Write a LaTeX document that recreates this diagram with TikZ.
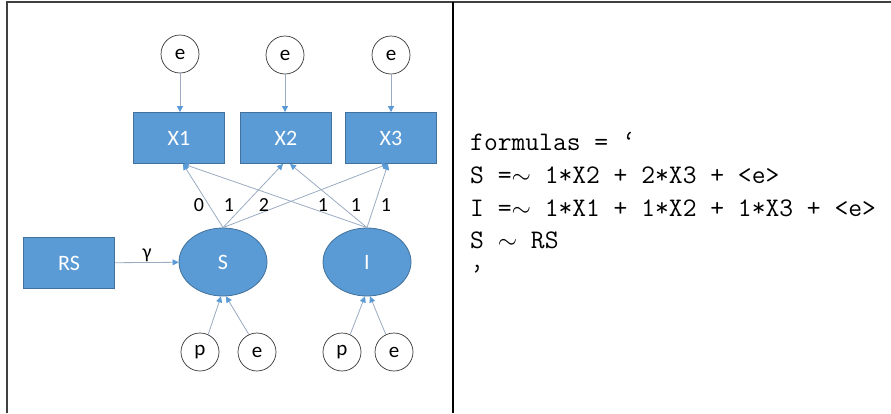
\documentclass[tikz,border=0pt]{standalone}
\usepackage{fontspec}
\newfontfamily\calfont{Carlito}
\usetikzlibrary{shapes.geometric,arrows.meta}
\definecolor{boxblue}{HTML}{5B9BD5}
\definecolor{boxedge}{HTML}{41719C}
\definecolor{linegray}{HTML}{9AABC2}
\tikzset{
  obs/.style={rectangle, fill=boxblue, draw=boxedge, line width=0.8pt, minimum width=91pt, minimum height=51pt, text=white, font=\calfont\fontsize{22}{24}\selectfont},
  lat/.style={ellipse, fill=boxblue, draw=boxedge, line width=0.8pt, minimum width=88pt, minimum height=68pt, inner sep=0pt, text=white, font=\calfont\fontsize{22}{24}\selectfont},
  err/.style={circle, draw=black!80, line width=0.7pt, fill=white, minimum size=38pt, inner sep=0pt, font=\calfont\fontsize{21}{23}\selectfont},
  conn/.style={draw=linegray, line width=0.8pt, -{Triangle[width=6pt,length=6pt,color=boxblue]}},
  lbl/.style={font=\calfont\fontsize{20}{22}\selectfont, inner sep=0pt},
  code/.style={anchor=base west, inner sep=0pt, font=\ttfamily\fontsize{26.8}{32}\selectfont},
  rulel/.style={line width=1.2pt}
}
\begin{document}
\begin{tikzpicture}[x=1pt,y=-1pt]
\useasboundingbox (0,0) rectangle (891,413);
% table rules
\draw[rulel, draw=black!75] (7,413) -- (7,2) -- (891,2);
\draw[rulel, draw=black] (453,2) -- (453,413);
% nodes
\node[err] (e1) at (180,54) {e};
\node[err] (e2) at (285,55) {e};
\node[err] (e3) at (391,55) {e};
\node[obs] (X1) at (179,138) {X1};
\node[obs] (X2) at (286,138) {X2};
\node[obs] (X3) at (391,138) {X3};
\node[obs] (RS) at (69,263) {RS};
\node[lat] (S) at (223,262) {S};
\node[lat] (I) at (367,262) {I};
\node[err] (p1) at (200,352) {p};
\node[err] (pe1) at (257,352) {e};
\node[err] (p2) at (342,352) {p};
\node[err] (pe2) at (394,352) {e};
% connectors
\draw[conn] (e1) -- (X1.north -| e1);
\draw[conn] (e2) -- (X2.north -| e2);
\draw[conn] (e3) -- (X3.north -| e3);
\draw[conn] (RS) -- (S);
\draw[conn] (S.north) -- ([xshift=4pt]X1.south);
\draw[conn] (S.north) -- ([xshift=-3pt]X2.south);
\draw[conn] (S.north) -- ([xshift=-3pt]X3.south);
\draw[conn] (I.north) -- ([xshift=4pt]X1.south);
\draw[conn] (I.north) -- ([xshift=4pt]X2.south);
\draw[conn] (I.north) -- ([xshift=-3pt]X3.south);
\draw[conn] (p1.65) -- ([xshift=-2pt]S.south);
\draw[conn] (pe1.115) -- ([xshift=3pt]S.south);
\draw[conn] (p2.65) -- ([xshift=-2pt]I.south);
\draw[conn] (pe2.115) -- ([xshift=3pt]I.south);
% labels
\node[lbl] (l1) at (199,205) {0};
\node[lbl] (l2) at (229,205) {1};
\node[lbl] (l3) at (264,205) {2};
\node[lbl] (l4) at (323,205) {1};
\node[lbl] (l5) at (356,205) {1};
\node[lbl] (l6) at (386,205) {1};
\node[lbl] (g) at (147,255) {γ};
% code
\node[code] (c1) at (470,150) {formulas = ‘};
\node[code] (c2) at (470,183) {S =$\sim$ 1*X2 + 2*X3 + <e>};
\node[code] (c3) at (470,216) {I =$\sim$ 1*X1 + 1*X2 + 1*X3 + <e>};
\node[code] (c4) at (470,248) {S $\sim$ RS};
\node[code] (c5) at (470,281) {’};
\end{tikzpicture}
\end{document}
